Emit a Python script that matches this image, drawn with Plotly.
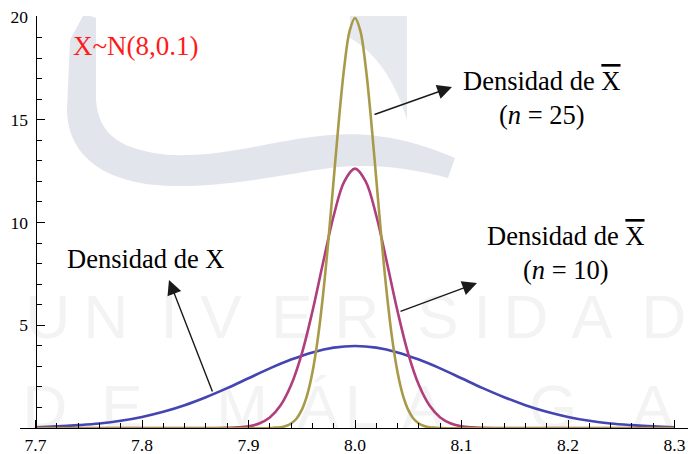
import plotly.graph_objects as go

# ---------------- data ----------------
x_X = [7.70, 7.72, 7.74, 7.76, 7.78, 7.80, 7.82, 7.84, 7.86, 7.88, 7.90,
       7.92, 7.94, 7.96, 7.98, 8.00, 8.02, 8.04, 8.06, 8.08, 8.10,
       8.12, 8.14, 8.16, 8.18, 8.20, 8.22, 8.24, 8.26, 8.28, 8.30]
dens_X = [0.04, 0.08, 0.14, 0.22, 0.35, 0.54, 0.79, 1.11, 1.50, 1.94, 2.42,
          2.90, 3.33, 3.68, 3.91, 3.99, 3.91, 3.68, 3.33, 2.90, 2.42,
          1.94, 1.50, 1.11, 0.79, 0.54, 0.35, 0.22, 0.14, 0.08, 0.04]

x_n10 = [7.70, 7.87, 7.88, 7.89, 7.90, 7.91, 7.92, 7.93, 7.94, 7.95, 7.96,
         7.97, 7.98, 7.99, 8.00, 8.01, 8.02, 8.03, 8.04, 8.05, 8.06, 8.07,
         8.08, 8.09, 8.10, 8.11, 8.12, 8.13, 8.30]
dens_n10 = [0.00, 0.00, 0.01, 0.03, 0.08, 0.22, 0.51, 1.09, 2.09, 3.61, 5.67,
            8.04, 10.33, 12.00, 12.62, 12.00, 10.33, 8.04, 5.67, 3.61, 2.09, 1.09,
            0.51, 0.22, 0.08, 0.03, 0.01, 0.00, 0.00]

x_n25 = [7.70, 7.920, 7.925, 7.930, 7.935, 7.940, 7.945, 7.950, 7.955, 7.960,
         7.965, 7.970, 7.975, 7.980, 7.985, 7.990, 7.995, 8.000, 8.005, 8.010,
         8.015, 8.020, 8.025, 8.030, 8.035, 8.040, 8.045, 8.050, 8.055, 8.060,
         8.065, 8.070, 8.075, 8.080, 8.30]
dens_n25 = [0.00, 0.00, 0.02, 0.04, 0.10, 0.22, 0.45, 0.88, 1.59, 2.70,
            4.31, 6.48, 9.13, 12.10, 15.06, 17.60, 19.33, 19.95, 19.33, 17.60,
            15.06, 12.10, 9.13, 6.48, 4.31, 2.70, 1.59, 0.88, 0.45, 0.22,
            0.10, 0.04, 0.02, 0.00, 0.00]

x_ticks = [7.7, 7.8, 7.9, 8.0, 8.1, 8.2, 8.3]
x_ticklabels = ["7.7", "7.8", "7.9", "8.0", "8.1", "8.2", "8.3"]
y_ticks = [5, 10, 15, 20]
y_ticklabels = ["5", "10", "15", "20"]

title_text = "X~N(8,0.1)"
label_X = "Densidad de X"
label_n10 = "Densidad de <span style='text-decoration:overline'>X</span><br>(<i>n</i> = 10)"
label_n25 = "Densidad de <span style='text-decoration:overline'>X</span><br>(<i>n</i> = 25)"

wm_line1 = ["U", "N", "I", "V", "E", "R", "S", "I", "D", "A", "D"]
wm_line2 = ["D", "E", "M", "Á", "L", "A", "G", "A"]

# ---------------- layout helpers (pixel -> axis coordinates) ----------------
W, H = 688, 454
ML, MR, MT, MB = 20, 0, 16, 26
PX_X0, PX_PER_X = 35.5, 1065.0   # pixel of x=7.7, pixels per unit
PX_Y0, PX_PER_Y = 428.0, 20.55   # pixel of y=0, pixels per unit


def dx(px):
    return 7.7 + (px - PX_X0) / PX_PER_X


def dy(py):
    return (PX_Y0 - py) / PX_PER_Y


x_range = [dx(ML), dx(W - MR)]
y_range = [0, dy(MT)]

serif = "Liberation Serif, Times New Roman, serif"

fig = go.Figure()

# watermark letters (background)
wm1_px = [48, 106, 169, 221, 292, 357, 438, 482, 526, 592, 664]
wm2_px = [45, 122, 242, 318, 362, 423, 553, 653]
fig.add_trace(go.Scatter(
    x=[dx(p) for p in wm1_px] + [dx(p) for p in wm2_px],
    y=[dy(322)] * len(wm1_px) + [dy(412)] * len(wm2_px),
    text=wm_line1 + wm_line2,
    mode="text", textposition="middle center",
    textfont=dict(family="Liberation Sans, Arial, sans-serif", size=62, color="#f3f3f3"),
    hoverinfo="skip", showlegend=False, cliponaxis=False,
))

fig.add_trace(go.Scatter(x=x_X, y=dens_X, mode="lines",
                         line=dict(color="rgb(68,68,178)", width=2.6, shape="spline"),
                         showlegend=False))
fig.add_trace(go.Scatter(x=x_n10, y=dens_n10, mode="lines",
                         line=dict(color="rgb(176,62,124)", width=2.6, shape="spline"),
                         showlegend=False))
fig.add_trace(go.Scatter(x=x_n25, y=dens_n25, mode="lines",
                         line=dict(color="rgb(168,154,72)", width=2.6, shape="spline"),
                         showlegend=False))


def pxpath(points, close=True):
    parts = []
    for seg in points:
        cmd, coords = seg[0], seg[1:]
        pts = " ".join(f"{dx(coords[j]):.5f},{dy(coords[j+1]):.4f}" for j in range(0, len(coords), 2))
        parts.append(f"{cmd}{pts}")
    return " ".join(parts) + (" Z" if close else "")


swoosh = pxpath([
    ("M", 84, 14), ("L", 96, 18), ("L", 96, 100),
    ("C", 99, 135, 120, 150, 170, 155),
    ("C", 230, 157, 270, 140, 330, 135),
    ("C", 380, 131, 420, 143, 455, 158),
    ("L", 448, 178),
    ("C", 410, 168, 370, 163, 330, 168),
    ("C", 280, 175, 230, 187, 170, 186),
    ("C", 110, 184, 68, 160, 67, 110),
    ("L", 70, 40),
])
bar = pxpath([
    ("M", 350, 0), ("L", 407, 0), ("L", 407, 120),
    ("C", 395, 80, 375, 52, 350, 38),
])
shapes = [
    dict(type="path", path=swoosh, xref="x", yref="y", layer="below",
         fillcolor="#e2e6ec", line=dict(width=0)),
    dict(type="path", path=bar, xref="x", yref="y", layer="below",
         fillcolor="#e6e9ee", line=dict(width=0)),
]

annotations = [
    dict(x=dx(71), y=dy(46), text=title_text, showarrow=False, xanchor="left", yanchor="middle",
         font=dict(family=serif, size=27, color="#ff1a1a")),
    dict(x=dx(146), y=dy(259), text=label_X, showarrow=False, xanchor="center", yanchor="middle",
         font=dict(family=serif, size=26.5, color="black")),
    dict(x=dx(542), y=dy(98), text=label_n25, showarrow=False, xanchor="center", yanchor="middle",
         align="center", font=dict(family=serif, size=26.5, color="black")),
    dict(x=dx(566), y=dy(253), text=label_n10, showarrow=False, xanchor="center", yanchor="middle",
         align="center", font=dict(family=serif, size=26.5, color="black")),
]
arrows = [((373, 115), (452, 87)), ((399, 312), (477, 283)), ((213, 393), (169, 280))]
for (tx, ty), (hx, hy) in arrows:
    annotations.append(dict(
        x=dx(hx), y=dy(hy), ax=dx(tx), ay=dy(ty), axref="x", ayref="y", xref="x", yref="y",
        text="", showarrow=True, arrowhead=2, arrowsize=2.1, arrowwidth=1.4,
        arrowcolor="#1a1a1a", standoff=0, startstandoff=0,
    ))

fig.update_layout(
    width=W, height=H,
    margin=dict(l=ML, r=MR, t=MT, b=MB, pad=0, autoexpand=False),
    paper_bgcolor="white", plot_bgcolor="white",
    showlegend=False,
    shapes=shapes,
    annotations=annotations,
    xaxis=dict(
        range=x_range, showgrid=False, zeroline=False, automargin=False,
        showline=True, linecolor="black", linewidth=1,
        tickmode="array", tickvals=x_ticks, ticktext=x_ticklabels,
        ticks="inside", ticklen=8, tickwidth=1, tickcolor="black",
        minor=dict(dtick=0.02, tick0=7.7, ticks="inside", ticklen=5, tickwidth=1, tickcolor="black"),
        tickfont=dict(family=serif, size=17.5, color="black"),
        ticklabelstandoff=1,
        anchor="y",
    ),
    yaxis=dict(
        range=y_range, showgrid=False, zeroline=False, automargin=False,
        showline=True, linecolor="black", linewidth=1,
        tickmode="array", tickvals=y_ticks, ticktext=y_ticklabels,
        ticks="inside", ticklen=8, tickwidth=1, tickcolor="black",
        minor=dict(dtick=1, tick0=0, ticks="inside", ticklen=5, tickwidth=1, tickcolor="black"),
        tickfont=dict(family=serif, size=17.5, color="black"),
        anchor="free", position=(PX_X0 - ML) / (W - ML - MR), side="left",
        ticklabelstandoff=4,
    ),
)

fig.write_html("out.html", config={"displayModeBar": False},
               post_script="document.body.style.margin='0px';document.body.style.overflow='hidden';")
